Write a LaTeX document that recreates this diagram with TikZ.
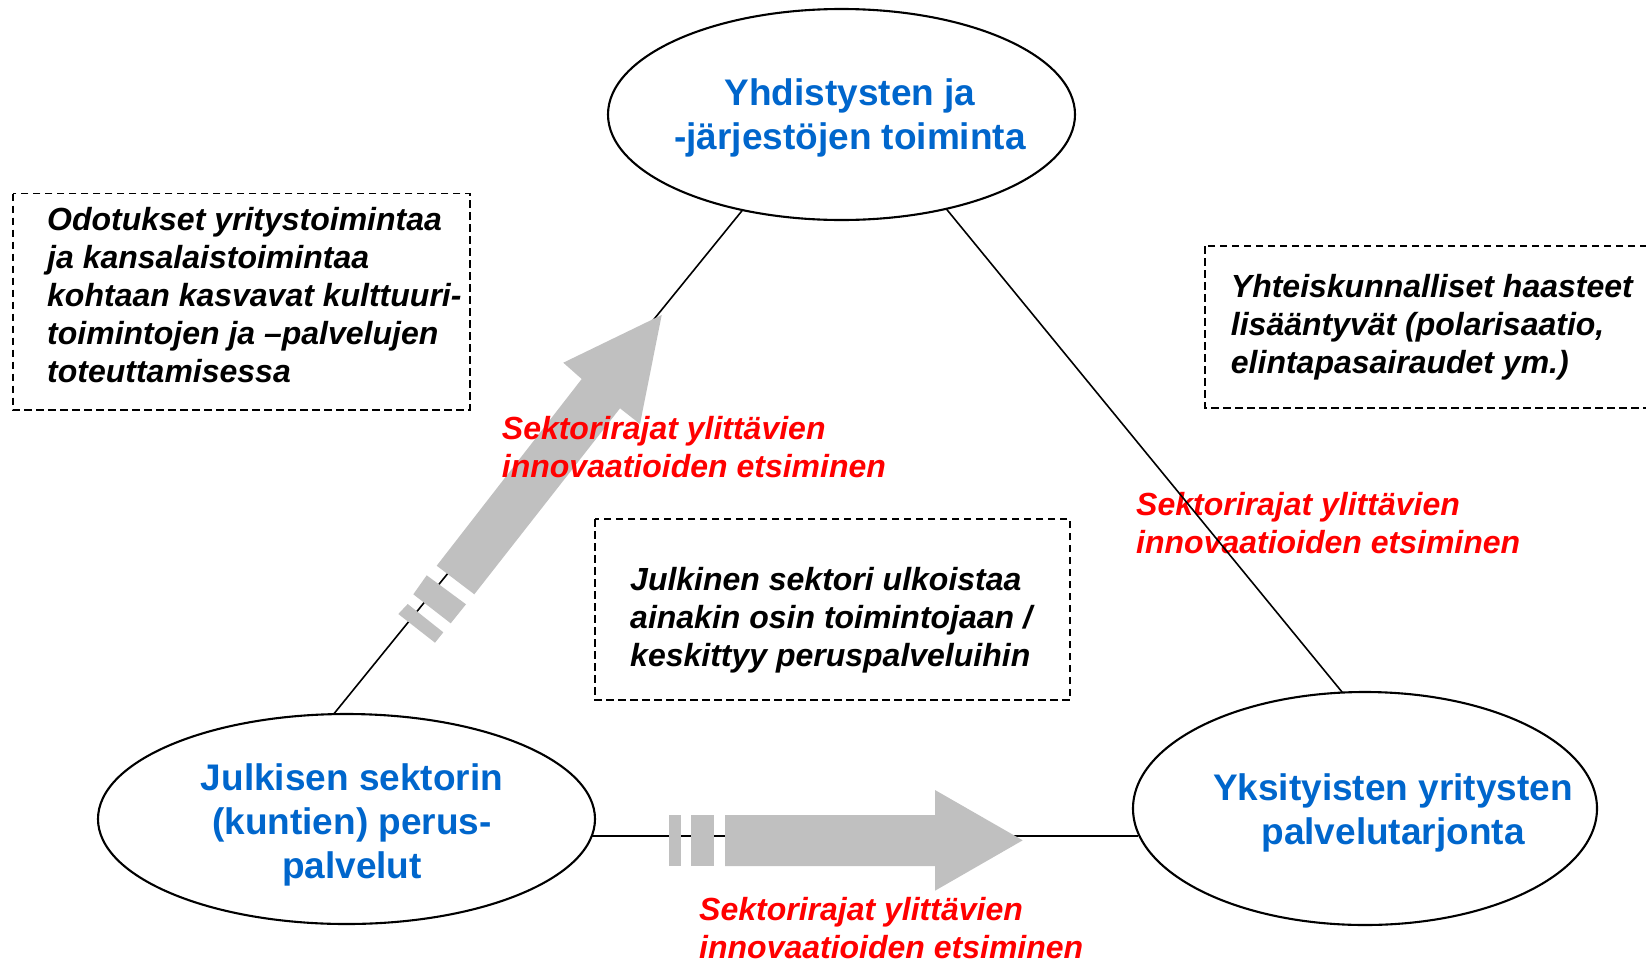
\documentclass[tikz,border=0pt]{standalone}
\usepackage{fontspec}
\setmainfont{Liberation Sans}
\usetikzlibrary{shapes.geometric}
\definecolor{elblue}{RGB}{0,102,204}
\definecolor{arrgray}{RGB}{192,192,192}
\definecolor{lblred}{RGB}{255,0,0}
\begin{document}
\begin{tikzpicture}[x=1pt,y=-1pt,
  oval/.style={ellipse, draw=black, line width=2.1pt, inner sep=0pt, outer sep=0pt, fill=white},
  ovaltext/.style={anchor=north, inner sep=0pt, align=center, text=elblue, font={\fontsize{37}{44}\selectfont\bfseries}},
  notebox/.style={draw=black, line width=1.6pt, dash pattern=on 7.5pt off 4.5pt},
  notetext/.style={anchor=north west, inner sep=0pt, align=left, font={\fontsize{32}{38}\selectfont\bfseries\itshape}},
  redtext/.style={notetext, text=lblred},
  link/.style={draw=black, line width=1.6pt},
  bigarrow/.style={fill=arrgray, draw=none}
]
\useasboundingbox (0,0) rectangle (1646,964);

% ellipses
\node[oval, minimum width=467pt, minimum height=211pt] (top) at (841.5,114.5) {};
\node[oval, minimum width=497pt, minimum height=210pt] (pub) at (346.5,819) {};
\node[oval, minimum width=464pt, minimum height=233pt] (priv) at (1365,808.5) {};

\node[ovaltext] (topT) at (850,74.2) {\strut Yhdistysten ja\\-järjestöjen toiminta};
\node[ovaltext] (pubT) at (352,759.9) {\strut Julkisen sektorin\\(kuntien) perus-\\palvelut};
\node[ovaltext] (privT) at (1393,769.7) {\strut Yksityisten yritysten\\palvelutarjonta};

% label under the right line
\node[redtext] (lab2) at (1136,488.4) {\strut Sektorirajat ylittävien\\innovaatioiden etsiminen};

% connectors
\draw[link] (top.224.1) -- (pub.97.5);
\draw[link] (top.318.3) -- (priv.101.4);
\draw[link] (pub.356.68) -- (pub.356.68 -| priv.186.24);

% big gray arrows
\fill[bigarrow] (436.7,565.7) -- (581.7,379) -- (563.3,362.7) -- (661.7,315) -- (640,424) -- (620,408.3) -- (474.3,594.3) -- cycle;
\fill[bigarrow] (426.7,575.3) -- (466,604.3) -- (450.7,623.3) -- (413.3,594.3) -- cycle;
\fill[bigarrow] (407.7,604) -- (443.3,632.3) -- (435,642.7) -- (398.3,614) -- cycle;

\fill[bigarrow] (725,815) -- (935,815) -- (935,790) -- (1022.7,840.3) -- (935,890.7) -- (935,866) -- (725,866) -- cycle;
\fill[bigarrow] (691,815) rectangle (713.7,866);
\fill[bigarrow] (669,815) rectangle (681,866);

% red labels
\node[redtext] (lab1) at (501.7,412.7) {\strut Sektorirajat ylittävien\\innovaatioiden etsiminen};
\node[redtext] (lab3) at (699,893.4) {\strut Sektorirajat ylittävien\\innovaatioiden etsiminen};

% dashed note boxes
\draw[notebox] (12.7,193.5) rectangle (470,410);
\draw[notebox] (1205,246) rectangle (1660,408);
\draw[notebox] (595,519) rectangle (1070,700);

\node[notetext] (note1) at (47,203.4) {\strut Odotukset yritystoimintaa\\ja kansalaistoimintaa\\kohtaan kasvavat kulttuuri-\\toimintojen ja –palvelujen\\toteuttamisessa};
\node[notetext] (note2) at (1230.7,270.4) {\strut Yhteiskunnalliset haasteet\\lisääntyvät (polarisaatio,\\elintapasairaudet ym.)};
\node[notetext] (note3) at (630,564.1) {\strut Julkinen sektori ulkoistaa\\ainakin osin toimintojaan /\\keskittyy peruspalveluihin};
\end{tikzpicture}
\end{document}
